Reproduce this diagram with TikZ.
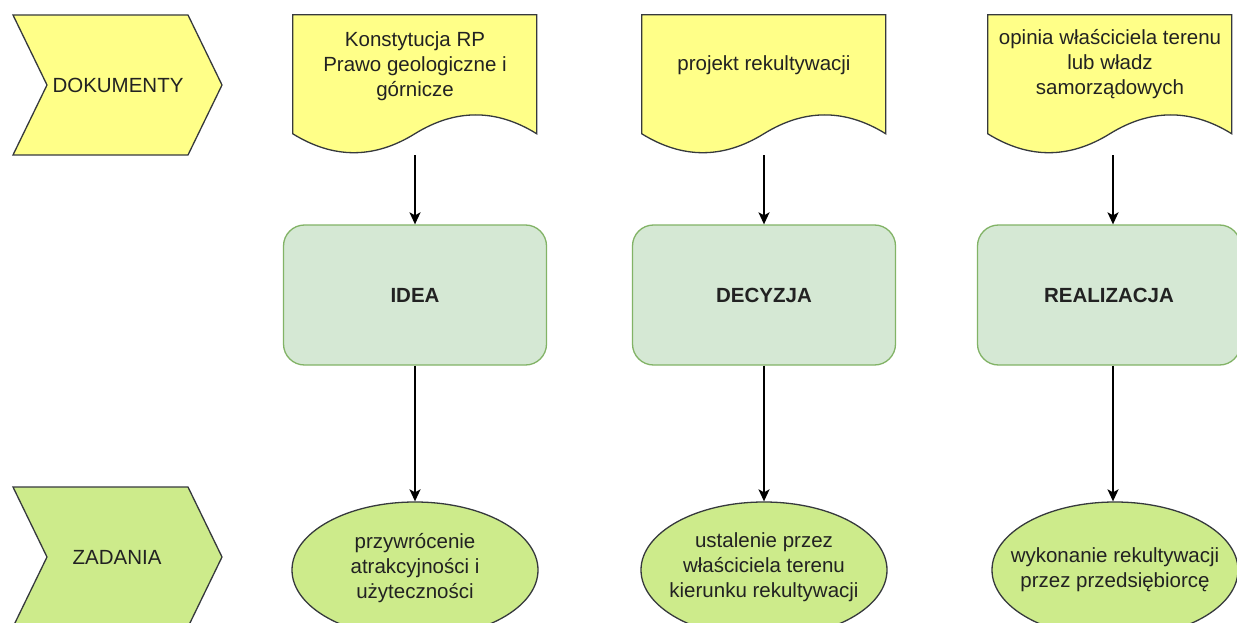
\documentclass[tikz,border=0pt]{standalone}
\usepackage{fontspec}
\setmainfont{Liberation Sans}
\usetikzlibrary{arrows.meta,shapes.geometric}
\definecolor{docyellow}{HTML}{FFFF88}
\definecolor{olivestroke}{HTML}{36393D}
\definecolor{rectfill}{HTML}{D5E8D4}
\definecolor{rectstroke}{HTML}{82B366}
\definecolor{limefill}{HTML}{CDEB8B}
\definecolor{txtcol}{HTML}{222222}
\newcommand\docshape[1]{%
  \begin{scope}[shift={(#1.north west)}]
    \draw[docfill] (0,0) -- (244,0) -- (244,119)
      .. controls (203.3,93.8) and (162.7,93.8) .. (122,119)
      .. controls (81.3,144.2) and (40.7,144.2) .. (0,119) -- cycle;
  \end{scope}}
\begin{document}
\begin{tikzpicture}[x=1pt,y=-1pt,
  txt/.style={text=txtcol, font=\fontsize{20.5}{25}\selectfont, align=center, inner sep=0pt},
  docfill/.style={fill=docyellow, draw=olivestroke, line width=1.3pt},
  chev/.style={draw=olivestroke, line width=1.3pt},
  docbox/.style={rectangle, minimum width=244pt, minimum height=140pt, inner sep=0pt},
  stage/.style={rectangle, rounded corners=21pt, fill=rectfill, draw=rectstroke, line width=1.3pt,
    minimum width=263pt, minimum height=140pt, text=txtcol, font=\fontsize{20.5}{25}\selectfont\bfseries},
  task/.style={ellipse, fill=limefill, draw=olivestroke, line width=1.3pt, minimum width=246pt,
    minimum height=136pt, inner sep=0pt},
  arr/.style={-{Stealth[length=12pt,width=11pt,inset=3pt]}, line width=1.8pt, black}]
\useasboundingbox[fill=white] (0,0) rectangle (1237,623);

% chevrons
\draw[chev, fill=docyellow] (13,15) -- (188,15) -- (222,85) -- (188,155) -- (13,155) -- (47,85) -- cycle;
\node[txt] (dok) at (118,85) {DOKUMENTY};
\draw[chev, fill=limefill] (13,487) -- (188,487) -- (222,557) -- (188,627) -- (13,627) -- (47,557) -- cycle;
\node[txt] (zad) at (117,557) {ZADANIA};

% documents
\node[docbox] (d1) at (415,85) {};
\docshape{d1}
\node[txt] (d1t) at (415,66) {Konstytucja RP\\Prawo geologiczne i\\górnicze};
\node[docbox] (d2) at (764,85) {};
\docshape{d2}
\node[txt] (d2t) at (764,65) {projekt rekultywacji};
\node[docbox] (d3) at (1110,85) {};
\docshape{d3}
\node[txt] (d3t) at (1110,64) {opinia właściciela terenu\\lub władz\\samorządowych};

% stages
\node[stage] (r1) at (415,295) {IDEA};
\node[stage] (r2) at (764,295) {DECYZJA};
\node[stage] (r3) at (1109,295) {REALIZACJA};

% tasks
\node[task] (e1) at (415,570) {};
\node[txt] (e1t) at (415,568) {przywrócenie\\atrakcyjności i\\użyteczności};
\node[task] (e2) at (764,570) {};
\node[txt] (e2t) at (764,567) {ustalenie przez\\właściciela terenu\\kierunku rekultywacji};
\node[task] (e3) at (1115,570) {};
\node[txt] (e3t) at (1115,570) {wykonanie rekultywacji\\przez przedsiębiorcę};

% connectors
\draw[arr] (d1.south) -- (r1.north);
\draw[arr] (d2.south) -- (r2.north);
\draw[arr] ([xshift=3pt]d3.south) -- ([xshift=4pt]r3.north);
\draw[arr] (r1.south) -- (e1.north);
\draw[arr] (r2.south) -- (e2.north);
\draw[arr] ([xshift=4pt]r3.south) -- ([xshift=-2pt]e3.north);
\end{tikzpicture}
\end{document}
